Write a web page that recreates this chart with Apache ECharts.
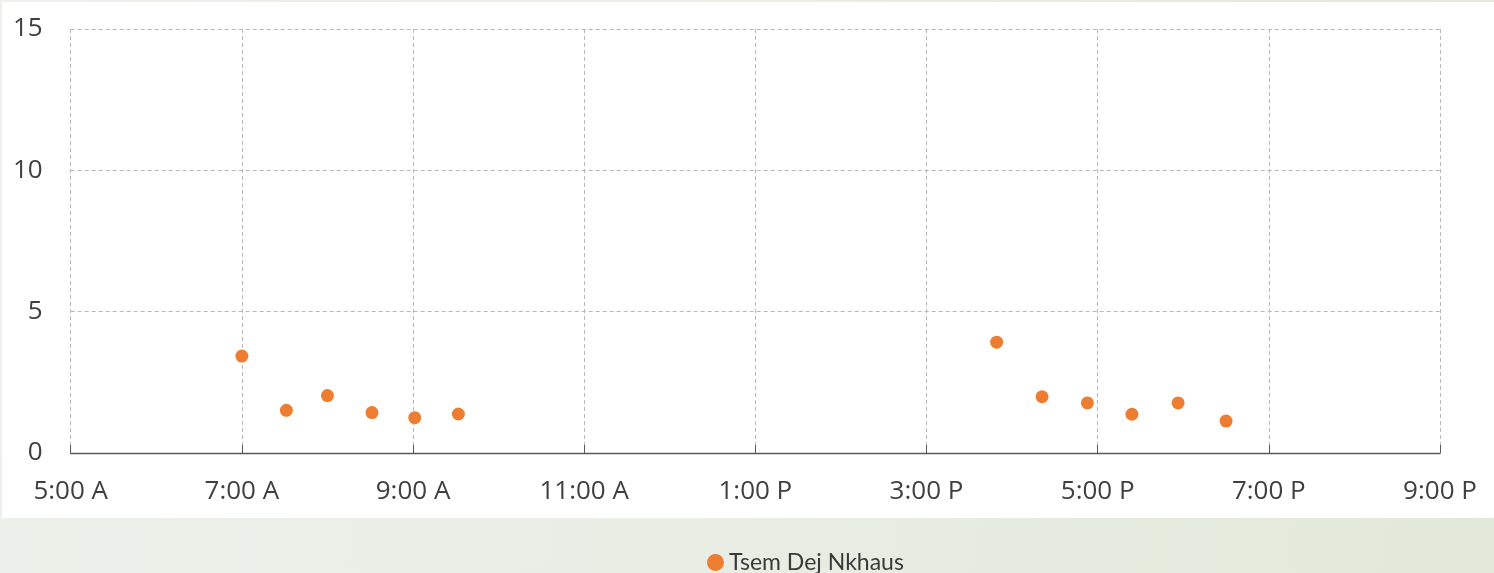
<!DOCTYPE html>
<html>
<head>
<meta charset="utf-8">
<script src="https://cdn.jsdelivr.net/npm/echarts@6/dist/echarts.min.js"></script>
<style>
  html, body { margin: 0; padding: 0; }
  body { background: linear-gradient(100deg, #eef0eb 0%, #e9ede4 50%, #e2e8d9 100%); }
  #chart { width: 1494px; height: 573px; }
</style>
</head>
<body>
<div id="chart"></div>
<script>
// time of day in hours, reading off the picture
var hours = [7.0, 7.52, 8.0, 8.52, 9.02, 9.53, 15.82, 16.35, 16.88, 17.4, 17.94, 18.5];
var values = [3.43, 1.51, 2.03, 1.43, 1.25, 1.38, 3.92, 1.99, 1.77, 1.37, 1.77, 1.13];
var seriesName = 'Tsem Dej Nkhaus';

function hourLabel(h) {
  var hh = h % 12 === 0 ? 12 : h % 12;
  return hh + ':00 ' + (h < 12 ? 'A' : 'P');
}

var points = hours.map(function (h, i) { return [h, values[i]]; });

var chart = echarts.init(document.getElementById('chart'));
chart.setOption({
  backgroundColor: 'transparent',
  animation: false,
  graphic: [{
    type: 'rect',
    z: -10,
    shape: { x: 2, y: 2, width: 1492, height: 516 },
    style: { fill: '#ffffff' }
  }],
  grid: { left: 70.7, right: 54, top: 29, bottom: 120 },
  legend: {
    data: [seriesName],
    left: 702,
    top: 546,
    icon: 'circle',
    itemWidth: 17,
    itemHeight: 17,
    itemGap: 4,
    textStyle: { fontFamily: 'Lato', fontSize: 23, color: '#3a3a3a' }
  },
  xAxis: {
    type: 'value',
    min: 5,
    max: 21,
    interval: 2,
    axisLine: { lineStyle: { color: '#595959', width: 1.3 } },
    axisTick: { inside: true, length: 8, lineStyle: { color: '#595959' } },
    axisLabel: {
      formatter: hourLabel,
      fontFamily: 'Open Sans',
      fontSize: 26,
      color: '#404040',
      margin: 26
    },
    splitLine: { show: true, lineStyle: { color: '#b8b8b8', type: [4, 3] } }
  },
  yAxis: {
    type: 'value',
    min: 0,
    max: 15,
    interval: 5,
    axisLine: { show: false },
    axisTick: { show: false },
    axisLabel: {
      fontFamily: 'Open Sans',
      fontSize: 26,
      color: '#404040',
      margin: 28
    },
    splitLine: { lineStyle: { color: '#b8b8b8', type: [4, 3] } }
  },
  series: [{
    name: seriesName,
    type: 'scatter',
    symbol: 'circle',
    symbolSize: 13,
    itemStyle: { color: '#ED7D31', opacity: 1 },
    data: points
  }]
});
</script>
</body>
</html>
